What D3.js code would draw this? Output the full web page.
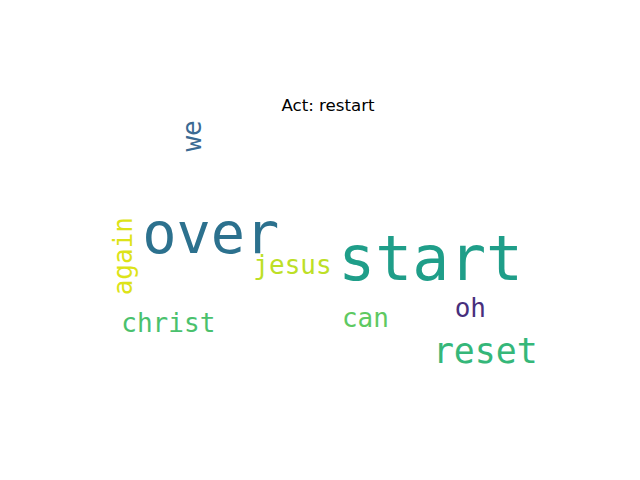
<!DOCTYPE html>
<html>
<head>
<meta charset="utf-8">
<script src="https://cdn.jsdelivr.net/npm/d3@7"></script>
<style>
  body { margin: 0; background: #fff; }
</style>
</head>
<body>
<svg id="chart"></svg>
<script>
// words and their weights (larger weight = bigger font)
const words = ["start", "over", "reset", "again", "jesus", "christ", "can", "oh", "we"];
const weights = [12, 11, 6, 4, 4, 4, 4, 4, 4];
const colors = ["#1f9e89", "#2c718e", "#35b779", "#dde318", "#bddf26", "#4ac16d", "#5ec962", "#472f7d", "#3b6a93"];
const rotated = [false, false, false, true, false, false, false, false, true];
// layout positions in cloud-image units (400 x 200 canvas)
const layoutX = [282.8, 105.5, 326.9, 41.9, 171.4, 71.2, 230.2, 314.8, 97.6];
const layoutY = [130.3, 108.3, 197.0, 111.1, 125.5, 172.3, 168.5, 160.4, 14.1];
const title = "Act: restart";

const W = 640, H = 480;
const svg = d3.select("#chart").attr("width", W).attr("height", H);

// image placed in the axes box like imshow with equal aspect
const axLeft = 80, axRight = 576, axTop = 57.6, axBottom = 427.2;
const imgH = (axRight - axLeft) * 200 / 400;
const imgTop = (axTop + axBottom) / 2 - imgH / 2;
const x = d3.scaleLinear().domain([0, 400]).range([axLeft, axRight]);
const y = d3.scaleLinear().domain([0, 200]).range([imgTop, imgTop + imgH]);
const px = (axRight - axLeft) / 400;
const size = d3.scaleLinear().domain([4, 12]).range([21, 49.5]);

const data = words.map((w, i) => ({
  text: w, weight: weights[i], color: colors[i], rot: rotated[i],
  x: layoutX[i], y: layoutY[i]
}));

svg.selectAll("text.word")
  .data(data)
  .enter()
  .append("text")
  .attr("class", "word")
  .attr("text-anchor", "middle")
  .attr("transform", d => `translate(${x(d.x)},${y(d.y)})` + (d.rot ? " rotate(-90)" : ""))
  .style("font-family", "'DejaVu Sans Mono', monospace")
  .style("font-size", d => (size(d.weight) * px) + "px")
  .attr("fill", d => d.color)
  .text(d => d.text);

svg.append("text")
  .attr("x", (axLeft + axRight) / 2)
  .attr("y", imgTop - 7.5)
  .attr("text-anchor", "middle")
  .style("font-family", "'DejaVu Sans', sans-serif")
  .style("font-size", "16.67px")
  .text(title);
</script>
</body>
</html>
